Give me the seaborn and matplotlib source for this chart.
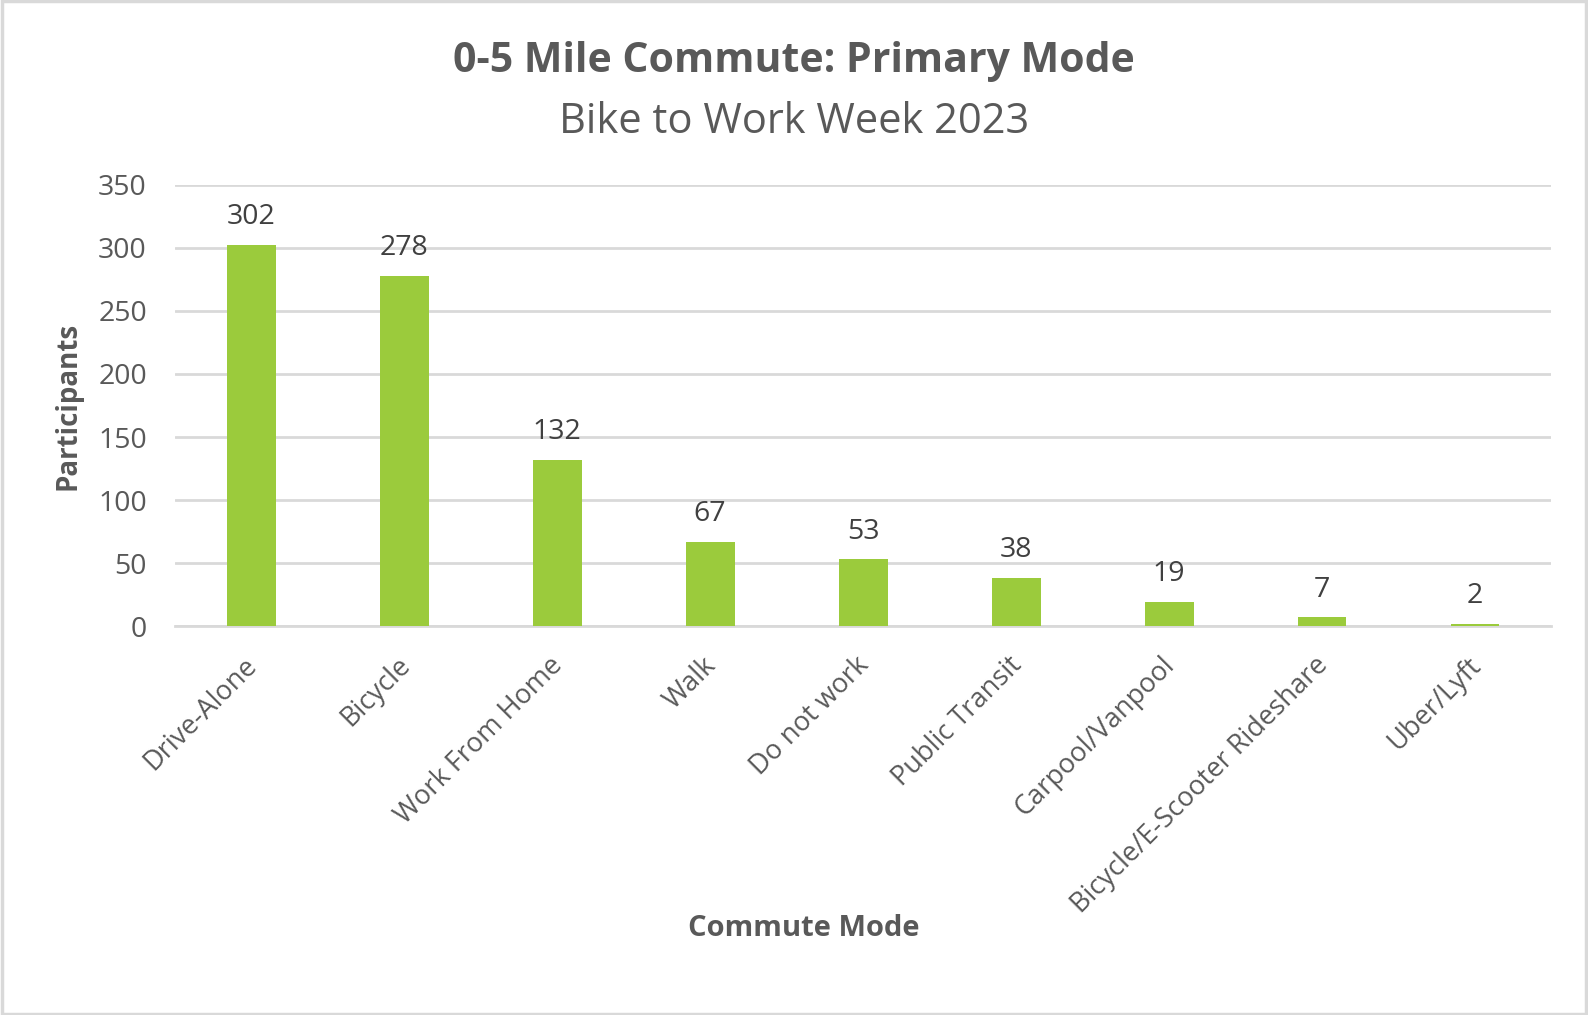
import matplotlib
matplotlib.use("Agg")
import matplotlib.pyplot as plt
import matplotlib.transforms as mtransforms
import seaborn as sns
import pandas as pd
from matplotlib.patches import Rectangle

categories = ["Drive-Alone", "Bicycle", "Work From Home", "Walk", "Do not work",
              "Public Transit", "Carpool/Vanpool", "Bicycle/E-Scooter Rideshare", "Uber/Lyft"]
participants = [302, 278, 132, 67, 53, 38, 19, 7, 2]
y_ticks = [0, 50, 100, 150, 200, 250, 300, 350]

title = "0-5 Mile Commute: Primary Mode"
subtitle = "Bike to Work Week 2023"
x_label = "Commute Mode"
y_label = "Participants"

sns.set_theme(style="white")
plt.rcParams["font.family"] = ["Open Sans", "DejaVu Sans"]

df = pd.DataFrame({"mode": categories, "n": participants})

fig = plt.figure(figsize=(15.88, 10.15), dpi=100)
ax = fig.add_axes([0.110, 0.383, 0.867, 0.435])

sns.barplot(data=df, x="mode", y="n", color="#9BCB3C", width=0.32,
            saturation=1, ax=ax, zorder=3, linewidth=0, edgecolor="none")

ax.set_ylim(0, 350)
ax.set_yticks(y_ticks)
ax.set_xlim(-0.5, len(categories) - 0.5)
ax.yaxis.grid(True, color="#D9D9D9", linewidth=2, zorder=0)
ax.set_axisbelow(True)
for s in ["top", "right", "left"]:
    ax.spines[s].set_visible(False)
ax.spines["bottom"].set_color("#D9D9D9")
ax.spines["bottom"].set_linewidth(2)
ax.spines["bottom"].set_zorder(1)

ax.tick_params(axis="y", length=0, pad=20, labelsize=20.5, labelcolor="#595959")
ax.tick_params(axis="x", length=0, pad=18, labelsize=19.5, labelcolor="#595959")
ax.set_xticks(range(len(categories)))
ax.set_xticklabels(categories, rotation=45, ha="right", rotation_mode="anchor")
shift = mtransforms.ScaledTranslation(-8 / 100, 0, fig.dpi_scale_trans)
for lbl in ax.get_xticklabels():
    lbl.set_transform(lbl.get_transform() + shift)
ax.set_xlabel("")
ax.set_ylabel("")

for i, v in enumerate(participants):
    ax.annotate(str(v), (i, v), xytext=(0, 10), textcoords="offset points",
                ha="center", va="bottom", fontsize=20.5, color="#404040")

fig.text(0.5, 0.939, title, ha="center", va="center", fontsize=29.5,
         fontweight="bold", color="#595959")
fig.text(0.5, 0.880, subtitle, ha="center", va="center", fontsize=30,
         color="#595959")
fig.text(0.043, 0.60, y_label, ha="center", va="center", rotation=90,
         fontsize=20, fontweight="bold", color="#595959")
fig.text(0.506, 0.085, x_label, ha="center", va="center", fontsize=21,
         fontweight="bold", color="#595959")

fig.patches.append(Rectangle((0.001, 0.001), 0.998, 0.998, transform=fig.transFigure,
                             fill=False, edgecolor="#D9D9D9", linewidth=2.5))

fig.savefig("out.png", dpi=100, facecolor="white")
